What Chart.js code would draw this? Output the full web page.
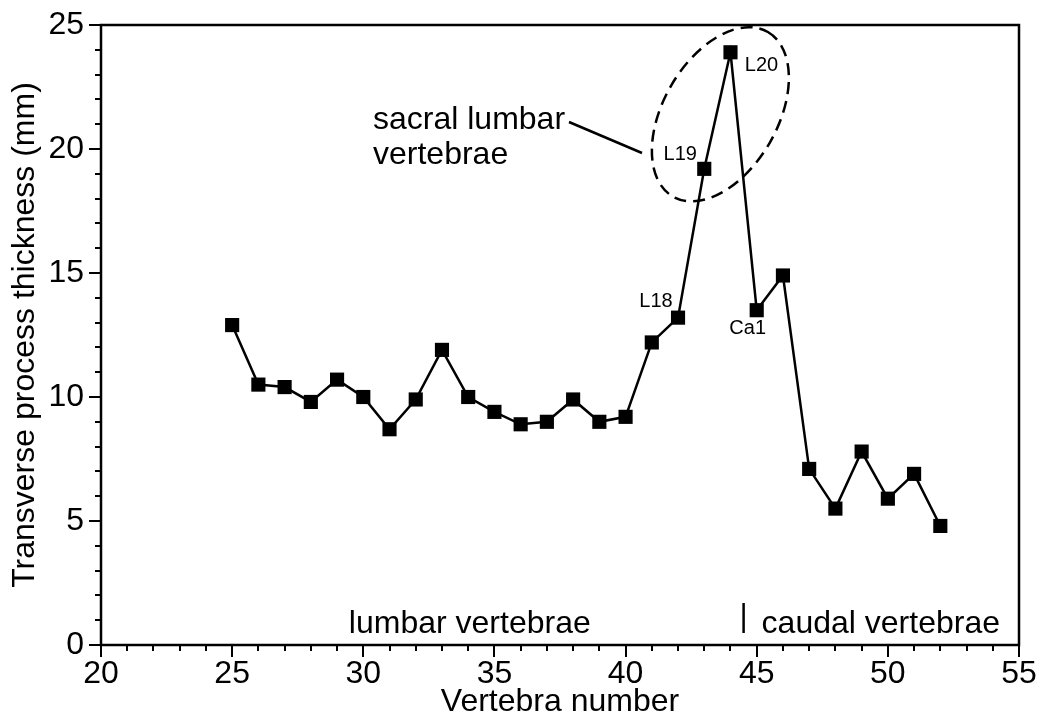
<!DOCTYPE html>
<html>
<head>
<meta charset="utf-8">
<script src="https://cdn.jsdelivr.net/npm/chart.js@4.4.1/dist/chart.umd.min.js"></script>
<style>
  html, body { margin: 0; padding: 0; background: #fff; }
</style>
</head>
<body>
<canvas id="chart" width="1041" height="723"></canvas>
<script>
'use strict';

// Vertebra number and transverse process thickness (mm)
var vertebrae = [25, 26, 27, 28, 29, 30, 31, 32, 33, 34, 35, 36, 37, 38,
                 39, 40, 41, 42, 43, 44, 45, 46, 47, 48, 49, 50, 51, 52];
var thickness = [12.9, 10.5, 10.4, 9.8, 10.7, 10.0, 8.7, 9.9, 11.9, 10.0, 9.4, 8.9, 9.0, 9.9,
                 9.0, 9.2, 12.2, 13.2, 19.2, 23.9, 13.5, 14.9, 7.1, 5.5, 7.8, 5.9, 6.9, 4.8];

// Named vertebrae marked next to their points
var markedVertebrae = [42, 43, 44, 45];
var markedNames = ['L18', 'L19', 'L20', 'Ca1'];

// Boundary between lumbar and caudal vertebrae
var caudalStart = 44.5;

var FONT = "'Liberation Sans', Arial, Helvetica, sans-serif";

// Label offsets (px) from each marked point
var nameOffsets = [[-22, -16], [-24, -14], [31, 13], [-9, 18]];

var axisFrame = {
  id: 'axisFrame',
  afterDraw: function (chart) {
    var ctx = chart.ctx,
        area = chart.chartArea,
        xs = chart.scales.x,
        ys = chart.scales.y,
        v;
    ctx.save();
    ctx.strokeStyle = '#000';
    ctx.lineWidth = 2.5;
    ctx.strokeRect(area.left, area.top, area.right - area.left, area.bottom - area.top);

    ctx.lineWidth = 2;
    ctx.beginPath();
    for (v = xs.min; v <= xs.max; v += 1) {
      var px = Math.round(xs.getPixelForValue(v));
      ctx.moveTo(px, area.bottom);
      ctx.lineTo(px, area.bottom + (v % 5 === 0 ? 12 : 6));
    }
    for (v = ys.min; v <= ys.max; v += 1) {
      var py = Math.round(ys.getPixelForValue(v));
      ctx.moveTo(area.left, py);
      ctx.lineTo(area.left - (v % 5 === 0 ? 12 : 6), py);
    }
    ctx.stroke();
    ctx.restore();
  }
};

var notes = {
  id: 'notes',
  afterDatasetsDraw: function (chart) {
    var ctx = chart.ctx,
        xs = chart.scales.x,
        ys = chart.scales.y;
    ctx.save();
    ctx.fillStyle = '#000';
    ctx.strokeStyle = '#000';

    // point names
    ctx.font = '20px ' + FONT;
    ctx.textAlign = 'center';
    ctx.textBaseline = 'middle';
    markedVertebrae.forEach(function (n, i) {
      var idx = vertebrae.indexOf(n);
      var px = xs.getPixelForValue(n) + nameOffsets[i][0];
      var py = ys.getPixelForValue(thickness[idx]) + nameOffsets[i][1];
      ctx.fillText(markedNames[i], px, py);
    });

    // dashed ellipse round the sacral lumbar vertebrae
    var cx = (xs.getPixelForValue(43) + xs.getPixelForValue(44)) / 2 + 3;
    var cy = ys.getPixelForValue(21.4);
    ctx.lineWidth = 2.5;
    ctx.setLineDash([12, 7]);
    ctx.beginPath();
    ctx.ellipse(cx, cy, 95, 57, -Math.PI / 3, 0, Math.PI * 2);
    ctx.stroke();
    ctx.setLineDash([]);

    // region labels
    ctx.font = '32px ' + FONT;
    ctx.textAlign = 'left';
    ctx.textBaseline = 'alphabetic';
    ctx.fillText('sacral lumbar', 373, 129);
    ctx.fillText('vertebrae', 373, 164);
    ctx.beginPath();
    ctx.moveTo(569, 122);
    ctx.lineTo(642, 153);
    ctx.stroke();

    var base = ys.getPixelForValue(0) - 12;
    var sx = xs.getPixelForValue(caudalStart);
    ctx.fillText('lumbar vertebrae', xs.getPixelForValue(29.45), base);
    ctx.fillText('caudal vertebrae', sx + 18, base);
    ctx.lineWidth = 2.5;
    ctx.beginPath();
    ctx.moveTo(sx, base - 30);
    ctx.lineTo(sx, base);
    ctx.stroke();
    ctx.restore();
  }
};

new Chart(document.getElementById('chart'), {
  type: 'line',
  data: {
    datasets: [{
      data: vertebrae.map(function (v, i) { return { x: v, y: thickness[i] }; }),
      borderColor: '#000',
      borderWidth: 2.5,
      backgroundColor: '#000',
      pointStyle: 'rect',
      pointRadius: 10,
      pointBorderWidth: 0,
      pointBackgroundColor: '#000',
      tension: 0
    }]
  },
  options: {
    responsive: false,
    animation: false,
    devicePixelRatio: 1,
    layout: { padding: { top: 25, right: 22, left: 0, bottom: 0 } },
    plugins: { legend: { display: false }, tooltip: { enabled: false } },
    scales: {
      x: {
        type: 'linear',
        min: 20,
        max: 55,
        grid: { display: false, drawTicks: false },
        border: { display: false },
        ticks: { stepSize: 5, color: '#000', padding: 10, font: { family: FONT, size: 32 } },
        title: { display: true, text: 'Vertebra number', color: '#000', padding: { top: 0, bottom: 2 },
                 font: { family: FONT, size: 32 } },
        afterFit: function (scale) {
          scale.height = 78;
          scale.paddingLeft = 0;
          scale.paddingRight = 0;
        }
      },
      y: {
        min: 0,
        max: 25,
        grid: { display: false, drawTicks: false },
        border: { display: false },
        ticks: { stepSize: 5, color: '#000', padding: 17, font: { family: FONT, size: 32 } },
        title: { display: true, text: 'Transverse process thickness (mm)', color: '#000',
                 padding: { top: 6, bottom: 0 }, font: { family: FONT, size: 32 } },
        afterFit: function (scale) {
          scale.width = 101;
          scale.paddingTop = 0;
          scale.paddingBottom = 0;
        }
      }
    }
  },
  plugins: [axisFrame, notes]
});
</script>
</body>
</html>
